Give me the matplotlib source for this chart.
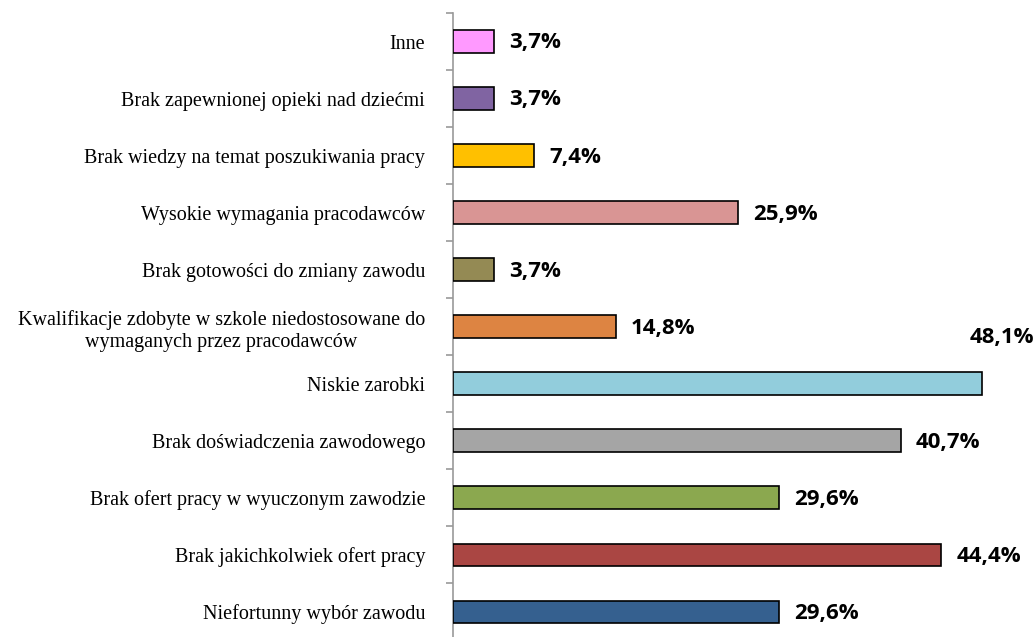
import matplotlib.pyplot as plt

# kategorie od dołu do góry
categories = [
    'Niefortunny wybór zawodu',
    'Brak jakichkolwiek ofert pracy',
    'Brak ofert pracy w wyuczonym zawodzie',
    'Brak doświadczenia zawodowego',
    'Niskie zarobki',
    'Kwalifikacje zdobyte w szkole niedostosowane do\nwymaganych przez pracodawców',
    'Brak gotowości do zmiany zawodu',
    'Wysokie wymagania pracodawców',
    'Brak wiedzy na temat poszukiwania pracy',
    'Brak zapewnionej opieki nad dziećmi',
    'Inne',
]
values = [29.6, 44.4, 29.6, 40.7, 48.1, 14.8, 3.7, 25.9, 7.4, 3.7, 3.7]
colors = ['#35608F', '#AA4643', '#8BA84F', '#A5A5A5', '#92CDDC', '#DD8442',
          '#948A54', '#D99594', '#FFC000', '#8064A2', '#FF99FF']

fig = plt.figure(figsize=(10.36, 6.37), dpi=100)
ax = fig.add_axes([453 / 1036, -0.0055, (1003 - 453) / 1036, (637 - 13 + 3.5) / 637])

y = range(len(categories))
ax.barh(y, values, height=0.4, color=colors, edgecolor='black', linewidth=1.2, zorder=3)

for i, v in enumerate(values):
    txt = f'{v:.1f}%'.replace('.', ',')
    if v == max(values):
        # etykieta najdłuższego słupka przesunięta nad słupek
        ax.annotate(txt, (v, i), xytext=(-9, 33), textcoords='offset points',
                    ha='left', va='center', fontsize=16, fontweight='bold',
                    family='Open Sans', color='black')
    else:
        ax.annotate(txt, (v, i), xytext=(11, -1), textcoords='offset points',
                    ha='left', va='center', fontsize=16, fontweight='bold',
                    family='Open Sans', color='black')

ax.set_xlim(0, 50)
ax.set_ylim(-0.5, len(categories) - 0.5)

# etykiety kategorii
ax.set_yticks(list(y))
ax.set_yticklabels(categories, family='Liberation Serif', fontsize=14.5,
                   multialignment='center')
ax.tick_params(axis='y', length=0, pad=20)

# krótkie kreski na granicach kategorii
ax.set_yticks([i - 0.5 for i in range(len(categories) + 1)], minor=True)
ax.tick_params(axis='y', which='minor', length=5, color='#999999', width=1.2)

ax.set_xticks([])
for side in ['top', 'right', 'bottom']:
    ax.spines[side].set_visible(False)
ax.spines['left'].set_color('#999999')
ax.spines['left'].set_linewidth(1.2)

fig.savefig('out.png', dpi=100)
